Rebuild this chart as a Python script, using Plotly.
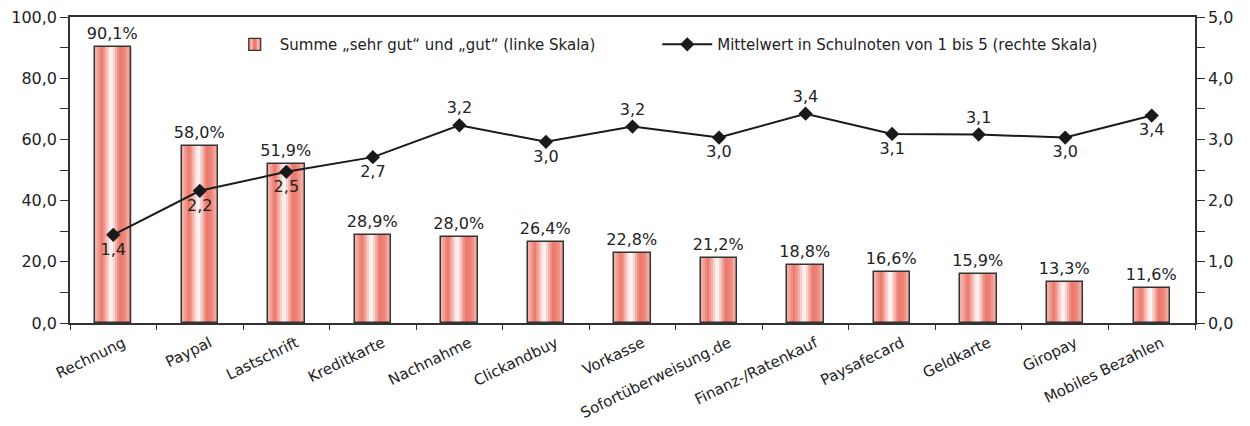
import plotly.graph_objects as go

categories = ["Rechnung", "Paypal", "Lastschrift", "Kreditkarte", "Nachnahme", "Clickandbuy",
              "Vorkasse", "Sofortüberweisung.de", "Finanz-/Ratenkauf", "Paysafecard",
              "Geldkarte", "Giropay", "Mobiles Bezahlen"]
share_pct = [90.1, 58.0, 51.9, 28.9, 28.0, 26.4, 22.8, 21.2, 18.8, 16.6, 15.9, 13.3, 11.6]
mean_grade = [1.44, 2.16, 2.47, 2.71, 3.23, 2.96, 3.21, 3.03, 3.42, 3.09, 3.08, 3.03, 3.39]
label_pos = ["bottom center", "bottom center", "bottom center", "bottom center", "top center",
             "bottom center", "top center", "bottom center", "top center", "bottom center",
             "top center", "bottom center", "bottom center"]

bar_name = "Summe „sehr gut“ und „gut“ (linke Skala)"
line_name = "Mittelwert in Schulnoten von 1 bis 5 (rechte Skala)"

# stripe gradient styling
stops = [(0.0, (245, 185, 177)), (0.2, (236, 120, 108)), (0.45, (255, 255, 255)),
         (0.68, (236, 120, 108)), (0.82, (238, 132, 120)), (1.0, (248, 200, 194))]

def grad(t):
    for (t0, c0), (t1, c1) in zip(stops[:-1], stops[1:]):
        if t0 <= t <= t1:
            f = (t - t0) / (t1 - t0)
            return "rgb(%d,%d,%d)" % tuple(round(a + (b - a) * f) for a, b in zip(c0, c1))
    return "rgb(%d,%d,%d)" % stops[-1][1]

W = 0.42
N = 18
sw = W / N
font = "DejaVu Sans"
tc = "#222222"

fig = go.Figure()
for i in range(N):
    c = grad((i + 0.5) / N)
    fig.add_trace(go.Bar(x=categories, y=share_pct, width=sw * 1.05, offset=-W / 2 + i * sw,
                         marker=dict(color=c, line=dict(width=0)), showlegend=False,
                         hoverinfo="skip"))
fig.add_trace(go.Bar(x=categories, y=share_pct, width=W, offset=-W / 2,
                     marker=dict(color="rgba(0,0,0,0)", line=dict(color="#333333", width=1.5)),
                     text=share_pct, texttemplate="%{y:.1f}%", textposition="outside",
                     constraintext="none",
                     textfont=dict(size=16, color=tc, family=font), cliponaxis=False,
                     showlegend=False))
# legend proxy for bars
fig.add_trace(go.Bar(x=[categories[0]], y=[None], name=bar_name, legend="legend",
                     marker=dict(color="#EE7A6E", line=dict(color="#333333", width=1.2),
                                 pattern=dict(shape="|", fgcolor="#FFFFFF", bgcolor="#EE7A6E",
                                              size=8, solidity=0.35))))
fig.add_trace(go.Scatter(x=categories, y=mean_grade, yaxis="y2", name=line_name,
                         legend="legend2",
                         mode="lines+markers+text", line=dict(color="#1a1a1a", width=2),
                         marker=dict(symbol="diamond", size=11, color="#1a1a1a"),
                         text=mean_grade, texttemplate="%{y:.1f}", textposition=label_pos,
                         textfont=dict(size=16, color=tc, family=font), cliponaxis=False))

fig.update_layout(
    width=1250, height=426, barmode="overlay", bargap=0,
    separators=",.",
    plot_bgcolor="white", paper_bgcolor="white",
    margin=dict(l=70, r=55, t=17, b=103),
    font=dict(family=font, size=16, color=tc),
    xaxis=dict(type="category", range=[-0.5, len(categories) - 0.5], showline=True,
               linecolor="#333333", linewidth=1.5,
               ticks="outside", tickson="boundaries", ticklen=5, tickcolor="#333333",
               tickangle=-26, mirror=True, showgrid=False, tickfont=dict(size=15),
               ticklabelshift=10, ticklabelstandoff=4, automargin=False),
    yaxis=dict(range=[0, 100], dtick=20, tickformat=".1f", showline=True, linecolor="#333333",
               linewidth=1.5, ticks="outside", ticklen=8, tickcolor="#333333", showgrid=False,
               zeroline=False, automargin=False,
               minor=dict(dtick=10, ticks="outside", ticklen=8, tickcolor="#333333")),
    yaxis2=dict(range=[0, 5], dtick=1, tickformat=".1f", overlaying="y", side="right",
                showline=True, linecolor="#333333", linewidth=1.5, ticks="outside", ticklen=8,
                tickcolor="#333333", showgrid=False, zeroline=False, automargin=False,
                minor=dict(dtick=0.5, ticks="outside", ticklen=8, tickcolor="#333333")),
    legend=dict(orientation="h", x=0.142, y=0.91, xanchor="left", yanchor="middle",
                bgcolor="rgba(0,0,0,0)", font=dict(size=15), itemwidth=40),
    legend2=dict(orientation="h", x=0.522, y=0.91, xanchor="left", yanchor="middle",
                 bgcolor="rgba(0,0,0,0)", font=dict(size=15), itemwidth=50),
)

fig.write_html("out.html", config={"displayModeBar": False},
               post_script="document.body.style.margin='0';document.body.style.overflow='hidden';")
